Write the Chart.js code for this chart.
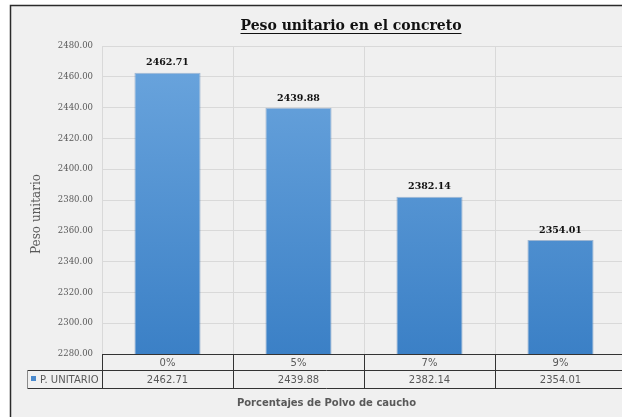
<!DOCTYPE html>
<html>
<head>
<meta charset="utf-8">
<title>Peso unitario en el concreto</title>
<script src="https://cdn.jsdelivr.net/npm/chart.js@4.4.1/dist/chart.umd.min.js"></script>
<style>
  html, body { margin: 0; padding: 0; background: #ffffff; overflow: hidden; }
  #wrap { width: 640px; height: 417px; }
</style>
</head>
<body>
<div id="wrap"><canvas id="grafico" width="640" height="417"></canvas></div>
<script>
// datos del ensayo
const porcentajes = ['0%', '5%', '7%', '9%'];
const pesoUnitario = [2462.71, 2439.88, 2382.14, 2354.01];
const nombreSerie = 'P. UNITARIO';
const yMin = 2280;
const yMax = 2480;
const yPaso = 20;

const titulo = 'Peso unitario en el concreto';
const tituloY = 'Peso unitario';
const tituloX = 'Porcentajes de Polvo de caucho';

const fondo = '#f0f0f0';
const rejilla = '#d9d9d9';
const textoGris = '#595959';

// marco y fondo gris del grafico
const marcoPlugin = {
  id: 'marco',
  beforeDraw(chart) {
    const ctx = chart.ctx;
    ctx.save();
    ctx.fillStyle = '#ffffff';
    ctx.fillRect(0, 0, chart.width, chart.height);
    ctx.fillStyle = fondo;
    ctx.fillRect(10, 5, chart.width - 10, chart.height - 5);
    ctx.strokeStyle = '#2b2b2b';
    ctx.lineWidth = 1.5;
    ctx.beginPath();
    ctx.moveTo(10.5, chart.height);
    ctx.lineTo(10.5, 5.5);
    ctx.lineTo(chart.width, 5.5);
    ctx.stroke();
    ctx.restore();
  }
};

// titulos, etiquetas de valor y tabla de datos
const textosPlugin = {
  id: 'textos',
  afterDatasetsDraw(chart) {
    const ctx = chart.ctx;
    const meta = chart.getDatasetMeta(0);
    ctx.save();
    ctx.font = 'bold 9.5px "DejaVu Serif"';
    ctx.fillStyle = '#111111';
    ctx.textAlign = 'center';
    ctx.textBaseline = 'bottom';
    meta.data.forEach((bar, i) => {
      ctx.fillText(pesoUnitario[i].toFixed(2), bar.x, bar.y - 5);
    });
    ctx.restore();
  },
  afterDraw(chart) {
    const ctx = chart.ctx;
    const area = chart.chartArea;
    const xs = chart.scales.x;
    ctx.save();

    // titulo subrayado
    ctx.font = 'bold 14px "DejaVu Serif"';
    ctx.fillStyle = '#111111';
    ctx.textAlign = 'center';
    ctx.textBaseline = 'alphabetic';
    const tx = 351;
    ctx.fillText(titulo, tx, 30);
    const tw = ctx.measureText(titulo).width;
    ctx.strokeStyle = '#111111';
    ctx.lineWidth = 1;
    ctx.beginPath();
    ctx.moveTo(tx - tw / 2, 33.5);
    ctx.lineTo(tx + tw / 2, 33.5);
    ctx.stroke();

    // titulo eje vertical
    ctx.save();
    ctx.translate(37, 214);
    ctx.rotate(-Math.PI / 2);
    ctx.font = '12px "DejaVu Serif"';
    ctx.fillStyle = textoGris;
    ctx.textBaseline = 'middle';
    ctx.fillText(tituloY, 0, 0);
    ctx.restore();

    // tabla de datos bajo el eje
    const n = porcentajes.length;
    const ancho = (area.right - area.left) / n;
    const y0 = area.bottom, y1 = y0 + 16, y2 = y1 + 18;
    const xLeyenda = 27;
    ctx.strokeStyle = '#333333';
    ctx.lineWidth = 1;
    ctx.beginPath();
    ctx.moveTo(area.left, y0 + 0.5); ctx.lineTo(area.right, y0 + 0.5);
    ctx.moveTo(xLeyenda, y1 + 0.5); ctx.lineTo(area.right, y1 + 0.5);
    ctx.moveTo(xLeyenda, y2 + 0.5); ctx.lineTo(area.right, y2 + 0.5);
    for (let i = 0; i <= n; i++) {
      const x = Math.round(area.left + i * ancho) + 0.5;
      ctx.moveTo(x, y0); ctx.lineTo(x, y2 + 1);
    }
    ctx.stroke();
    ctx.strokeStyle = '#8c8c8c';
    ctx.beginPath();
    ctx.moveTo(xLeyenda + 0.5, y1); ctx.lineTo(xLeyenda + 0.5, y2 + 1);
    ctx.stroke();

    ctx.font = '10px "DejaVu Sans"';
    ctx.fillStyle = textoGris;
    ctx.textAlign = 'center';
    ctx.textBaseline = 'middle';
    porcentajes.forEach((c, i) => {
      const cx = xs.getPixelForValue(i);
      ctx.fillText(c, cx, (y0 + y1) / 2 + 1);
      ctx.fillText(pesoUnitario[i].toFixed(2), cx, (y1 + y2) / 2 + 1);
    });
    ctx.fillStyle = '#4a89cc';
    ctx.fillRect(31, 376, 5, 5);
    ctx.fillStyle = textoGris;
    ctx.textAlign = 'left';
    ctx.fillText(nombreSerie, 40, (y1 + y2) / 2 + 1);

    // titulo eje horizontal
    ctx.font = 'bold 10px "DejaVu Sans"';
    ctx.textAlign = 'center';
    ctx.fillText(tituloX, (xLeyenda + area.right) / 2, 403);
    ctx.restore();
  }
};

function degradado(context) {
  const area = context.chart.chartArea;
  if (!area) return '#5b9bd5';
  const g = context.chart.ctx.createLinearGradient(0, area.top, 0, area.bottom);
  g.addColorStop(0, '#6ca6de');
  g.addColorStop(1, '#3b80c6');
  return g;
}

new Chart(document.getElementById('grafico'), {
  type: 'bar',
  data: {
    labels: porcentajes,
    datasets: [{
      label: nombreSerie,
      data: pesoUnitario,
      backgroundColor: degradado,
      borderColor: 'rgba(60,110,170,0.45)',
      borderWidth: 1,
      borderSkipped: 'bottom',
      categoryPercentage: 1,
      barPercentage: 0.505
    }]
  },
  options: {
    responsive: false,
    animation: false,
    layout: { padding: { left: 0, top: 46, right: 14, bottom: 63 } },
    plugins: {
      legend: { display: false },
      title: { display: false },
      tooltip: { enabled: false }
    },
    scales: {
      x: {
        offset: true,
        grid: { display: true, offset: true, color: rejilla, drawTicks: false },
        border: { display: false },
        ticks: { display: false },
        afterFit(axis) { axis.height = 0; }
      },
      y: {
        min: yMin,
        max: yMax,
        grid: { color: rejilla, drawTicks: false },
        border: { display: false },
        ticks: {
          stepSize: yPaso,
          padding: 9,
          color: textoGris,
          font: { family: 'DejaVu Serif', size: 8.5 },
          callback: v => v.toFixed(2)
        },
        afterFit(axis) { axis.width = 102; }
      }
    }
  },
  plugins: [marcoPlugin, textosPlugin]
});
</script>
</body>
</html>
